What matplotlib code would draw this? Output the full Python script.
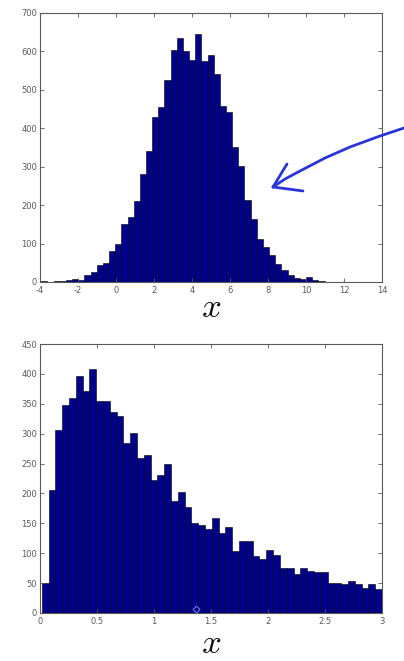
import numpy as np
import matplotlib
matplotlib.use('Agg')
import matplotlib.pyplot as plt
from matplotlib.lines import Line2D

# Top histogram: 50 bins (roughly normal, centred near 4)
top_start = -3.93
top_width = 0.324
top_counts = [2, 1, 2, 3, 4, 8, 5, 18, 25, 45,
              50, 80, 100, 150, 170, 210, 280, 340, 430, 455,
              525, 605, 635, 600, 578, 645, 574, 591, 542, 457,
              443, 352, 303, 213, 165, 113, 91, 70, 48, 32,
              17, 11, 9, 13, 4, 2, 1, 1, 1, 1]
top_xticks = [-4, -2, 0, 2, 4, 6, 8, 10, 12, 14]
top_yticks = [0, 100, 200, 300, 400, 500, 600, 700]

# Bottom histogram: 50 bins (skewed, between 0 and 3)
bot_start = 0.015
bot_width = 0.0597
bot_counts = [50, 206, 306, 348, 359, 397, 371, 409, 354, 355,
              337, 330, 284, 301, 260, 264, 222, 231, 249, 187,
              202, 177, 151, 148, 140, 159, 134, 144, 104, 121,
              121, 95, 90, 106, 97, 75, 75, 65, 76, 71,
              68, 68, 50, 50, 49, 53, 48, 42, 49, 40]
bot_xticks = [0, 0.5, 1, 1.5, 2, 2.5, 3]
bot_xlabels = ['0', '0.5', '1', '1.5', '2', '2.5', '3']
bot_yticks = [0, 50, 100, 150, 200, 250, 300, 350, 400, 450]

BAR = '#00008a'
GREY = '#5a5a5a'

plt.rcParams['mathtext.fontset'] = 'cm'
plt.rcParams['axes.unicode_minus'] = False

fig = plt.figure(figsize=(4.04, 6.61), dpi=100)
ax1 = fig.add_axes([40 / 404, 1 - 282 / 661, 342 / 404, 269 / 661])
ax2 = fig.add_axes([40 / 404, 1 - 613 / 661, 342 / 404, 269 / 661])


def draw_hist(ax, start, width, counts):
    lefts = start + width * np.arange(len(counts))
    ax.bar(lefts, counts, width=width, align='edge', color=BAR,
           edgecolor='black', linewidth=0.4)


def style(ax):
    for s in ax.spines.values():
        s.set_color(GREY)
        s.set_linewidth(0.8)
    ax.tick_params(direction='in', length=3, width=0.6, colors=GREY,
                   labelsize=6, top=True, right=True, pad=3)
    ax.tick_params(axis='y', pad=2)
    ax.set_xlabel(r'$x$', fontsize=25, labelpad=0, color='#111111')


draw_hist(ax1, top_start, top_width, top_counts)
ax1.set_xlim(-4, 14)
ax1.set_ylim(0, 700)
ax1.set_xticks(top_xticks)
ax1.set_yticks(top_yticks)
style(ax1)
ax1.xaxis.labelpad = -4

draw_hist(ax2, bot_start, bot_width, bot_counts)
ax2.set_xlim(0, 3)
ax2.set_ylim(0, 450)
ax2.set_xticks(bot_xticks)
ax2.set_xticklabels(bot_xlabels)
ax2.set_yticks(bot_yticks)
style(ax2)

# hand-drawn blue arrow (figure pixel coords -> fraction)
def fpt(px, py):
    return px / 404, 1 - py / 661

ARROW = '#2a35d8'
curve = [(404, 128), (380, 136), (350, 147), (325, 158), (300, 171), (285, 179), (273, 187)]
xs, ys = zip(*[fpt(*p) for p in curve])
fig.add_artist(Line2D(xs, ys, color=ARROW, lw=2, solid_capstyle='round'))
for p in [(287, 164), (303, 191)]:
    (x0, y0), (x1, y1) = fpt(273, 187), fpt(*p)
    fig.add_artist(Line2D([x0, x1], [y0, y1], color=ARROW, lw=2, solid_capstyle='round'))

# small cursor marker on the lower plot
mx, my = fpt(196, 609)
fig.add_artist(Line2D([mx], [my], marker='D', markersize=3.5, markerfacecolor='none',
                      markeredgecolor='#6b7bd8', markeredgewidth=0.8))

fig.savefig('out.png', dpi=100, facecolor='white')
